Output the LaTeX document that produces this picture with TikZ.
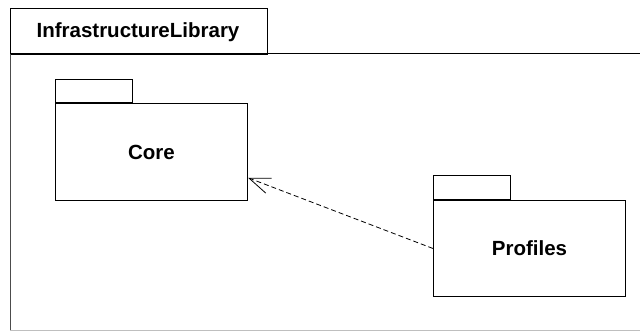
\documentclass[tikz,border=0pt]{standalone}
\usepackage{fontspec}
\setmainfont{Liberation Sans}
\usetikzlibrary{arrows.meta,calc}
\tikzset{
  pkgbody/.style={draw=black, line width=1pt, fill=white, inner sep=0pt},
  pkgtab/.style={draw=black, line width=1pt, fill=white, inner sep=0pt},
  pkglabel/.style={font=\fontsize{20.5}{24}\selectfont\bfseries},
  dep/.style={draw=black, line width=0.8pt, dash pattern=on 5pt off 3pt,
    -{Straight Barb[length=21pt,width=16pt,line width=0.8pt]}}
}
\begin{document}
\begin{tikzpicture}[x=1pt,y=-1pt]
\useasboundingbox (0,0) rectangle (640,331);
\clip (0,0) rectangle (640,331);
% outer package frame
\node[pkgtab, minimum width=257pt, minimum height=46pt, anchor=north west] (outertab) at (10,8) {};
\node[pkglabel] (outerlabel) at (138,32) {InfrastructureLibrary};
\node[inner sep=0pt, minimum width=650pt, minimum height=276pt, anchor=north west] (outerbody) at (10,54) {};
\draw[line width=1pt, black!25] (outerbody.south west) -- (outerbody.south east);
\draw[line width=1pt, black!70] (outerbody.north west) -- (outerbody.south west);
\draw[line width=1pt] (outerbody.north west) -- (outerbody.north east);
% Core package
\node[pkgtab, minimum width=77pt, minimum height=23pt, anchor=south west] (coretab) at (55,103) {};
\node[pkgbody, minimum width=192pt, minimum height=97pt, anchor=north west] (core) at (55,103) {};
\node[pkglabel] (corelabel) at (core.center) {Core};
% Profiles package
\node[pkgtab, minimum width=77pt, minimum height=24pt, anchor=south west] (proftab) at (433,200) {};
\node[pkgbody, minimum width=192pt, minimum height=96pt, anchor=north west] (profiles) at (433,200) {};
\node[pkglabel] (proflabel) at (profiles.center) {Profiles};
% dependency
\coordinate (coretip) at ($(core.south east)!0.237!(core.north east)$);
\draw[dep] (profiles.west) -- (coretip);
\end{tikzpicture}
\end{document}
